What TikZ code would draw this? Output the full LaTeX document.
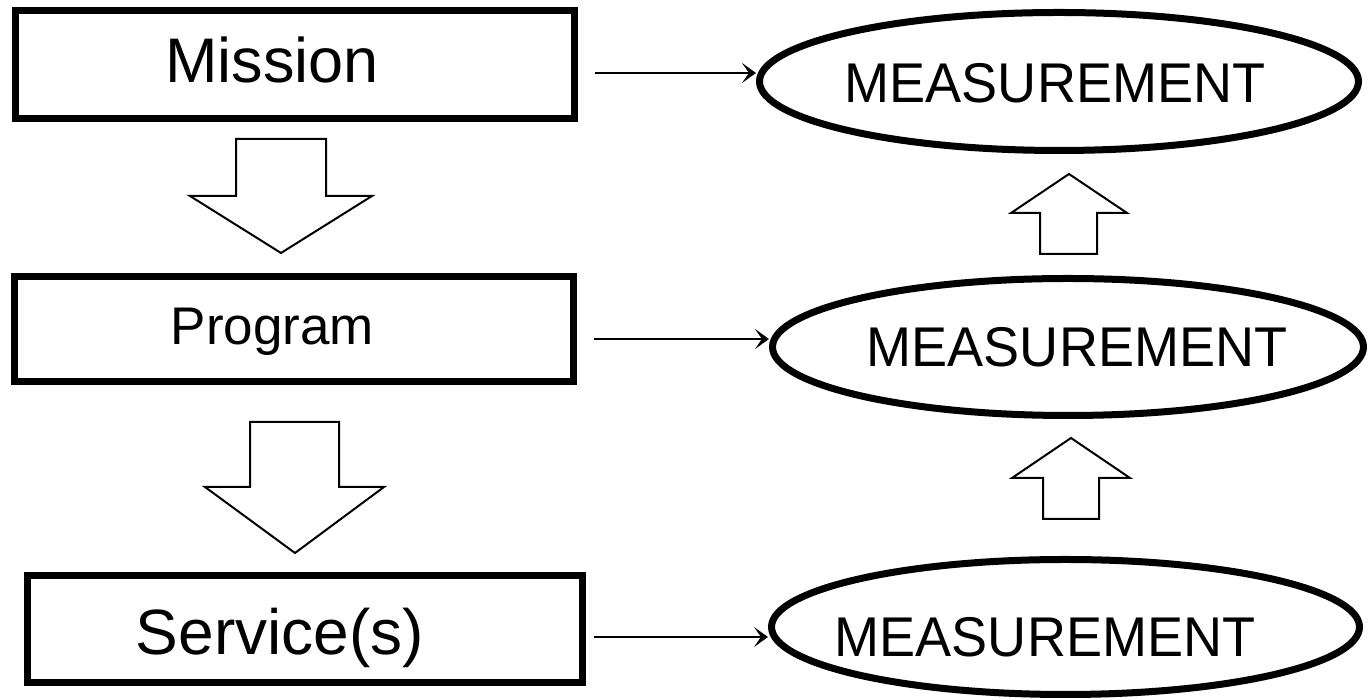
\documentclass[tikz,border=0pt]{standalone}
\usepackage{fontspec}
\setmainfont{Liberation Sans}
\newfontfamily\measfont[FakeStretch=0.965]{Liberation Sans}
\usetikzlibrary{shapes.geometric,arrows.meta}
\begin{document}
\begin{tikzpicture}[x=1pt,y=1pt,
  box/.style={draw,line width=7pt,rectangle,inner sep=0pt},
  oval/.style={draw,line width=7pt,ellipse,inner sep=0pt},
  lbl/.style={anchor=base,inner sep=0pt},
  meas/.style={lbl,font=\measfont\fontsize{56}{62}\selectfont},
  conn/.style={line width=2pt,-{Stealth[length=14pt,width=20pt,inset=7pt]}},
  blockarrow/.style={draw,line width=2pt,fill=white,line join=miter}]
\useasboundingbox (0,0) rectangle (1369,700);
% left boxes
\node[box,minimum width=559pt,minimum height=108pt] (mission) at (295,635.5) {};
\node[box,minimum width=559pt,minimum height=105pt] (program) at (294,371) {};
\node[box,minimum width=555pt,minimum height=107pt] (service) at (305,71) {};
\node[lbl,font=\fontsize{63}{70}\selectfont] (missiontxt) at (272,617) {Mission};
\node[lbl,font=\fontsize{53}{60}\selectfont] (programtxt) at (272.5,355) {Program};
\node[lbl,font=\fontsize{64}{70}\selectfont] (servicetxt) at (280,45) {Service(s)};
% right ellipses
\node[oval,minimum width=599pt,minimum height=138pt] (meas1) at (1059,618.5) {};
\node[oval,minimum width=591pt,minimum height=137pt] (meas2) at (1068,353) {};
\node[oval,minimum width=588pt,minimum height=135pt] (meas3) at (1065.5,73) {};
\node[meas] (meas1txt) at (1055,597) {MEASUREMENT};
\node[meas] (meas2txt) at (1077,333) {MEASUREMENT};
\node[meas] (meas3txt) at (1045,43) {MEASUREMENT};
% connectors
\coordinate (c1) at ([xshift=17pt,yshift=-8.5pt]mission.east);
\coordinate (c2) at ([xshift=17pt,yshift=-10pt]program.east);
\coordinate (c3) at ([xshift=8pt,yshift=-8pt]service.east);
\draw[conn] (c1) -- (c1 -| meas1.west);
\draw[conn] (c2) -- (c2 -| meas2.west);
\draw[conn] (c3) -- (c3 -| meas3.west);
% block arrows down
\draw[blockarrow] (236,561) -- (326,561) -- (326,504) -- (372,504) -- (281,447) -- (190,504) -- (236,504) -- cycle;
\draw[blockarrow] (250,278) -- (339,278) -- (339,213) -- (384,213) -- (295,147) -- (205,213) -- (250,213) -- cycle;
% block arrows up
\draw[blockarrow] (1040,446) -- (1097,446) -- (1097,487) -- (1127,487) -- (1069,526) -- (1011,487) -- (1040,487) -- cycle;
\draw[blockarrow] (1043,181) -- (1099,181) -- (1099,222) -- (1130,222) -- (1071,262) -- (1012,222) -- (1043,222) -- cycle;
\end{tikzpicture}
\end{document}
